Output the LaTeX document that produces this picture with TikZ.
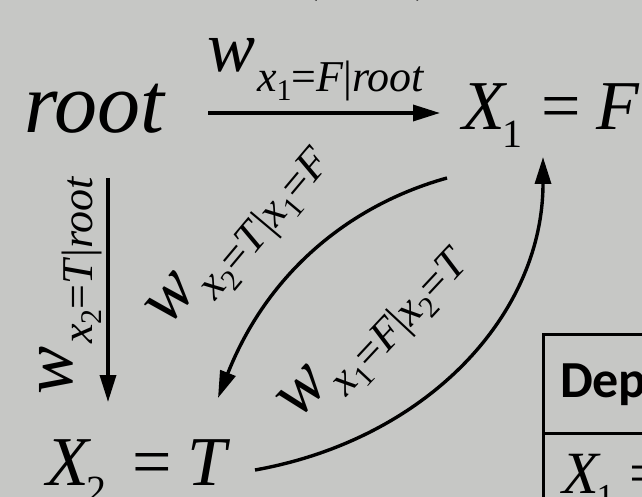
\documentclass[tikz,border=0pt]{standalone}
\usepackage{fontspec}
\setmainfont{Liberation Serif}
\newfontfamily\calfont{Carlito}
\usetikzlibrary{arrows.meta}
\definecolor{bg}{RGB}{198,199,197}
\newcommand\fsz[1]{\fontsize{#1}{#1}\selectfont}
\newcommand\ssub[1]{\raisebox{-9pt}{\fsz{30}#1}}
\newcommand\wlab[1]{{\fsz{72}\itshape w}\hspace{2pt}\raisebox{-20pt}{\fsz{44}#1}}
\begin{document}
\begin{tikzpicture}[x=1pt,y=-1pt,
  txt/.style={inner sep=0pt, outer sep=0pt, anchor=base west},
  arr/.style={line width=3.4pt, -{Triangle[length=27pt,width=16pt]}},
  frame/.style={line width=3pt}]
\fill[bg] (0,0) rectangle (642,497);
\useasboundingbox (0,0) rectangle (642,497);
\clip (0,0) rectangle (642,497);
% partly hidden title
\node[txt] (title) at (301,-9) {\fsz{52}(\hspace{32pt},\hspace{52pt})};
% nodes
\node[txt] (root) at (24,133) {\fsz{86}\itshape root};
\node[txt] (x1) at (462,130) {\fsz{70}\textit{X}\hspace{-5pt}\raisebox{-18pt}{\fsz{40}1}\hspace{19pt}=\hspace{16pt}\textit{F}};
\node[txt] (x2) at (46,485) {\fsz{70}\textit{X}\hspace{-5pt}\raisebox{-18pt}{\fsz{40}2}\hspace{26pt}=\hspace{16pt}\textit{T}};
% connectors
\draw[arr] ([shift={(44,-20)}]root.base east) coordinate (s) -- ([xshift=-22pt]x1.west |- s);
\draw[arr] ([shift={(84,45)}]root.base west) -- ([shift={(62,-83)}]x2.base west);
\draw[arr] ([shift={(-15,48)}]x1.base west) .. controls (350,205) and (268,272) .. ([shift={(172,-87)}]x2.base west);
\draw[arr] ([shift={(209,-15)}]x2.base west) .. controls (428,439) and (543,314) .. ([shift={(81,27)}]x1.base west);
% labels
\node[txt] (l1) at (207,72) {\wlab{\textit{x}\ssub{1}=\textit{F}|\textit{root}}};
\node[txt, rotate=90] (l2) at (72,394) {\wlab{\textit{x}\ssub{2}=\textit{T}|\textit{root}}};
\node[txt, rotate=50] (l3) at (168,327) {\wlab{\textit{x}\ssub{2}=\textit{T}|\textit{x}\ssub{1}=\textit{F}}};
\node[txt, rotate=47] (l4) at (298,420) {\wlab{\textit{x}\ssub{1}=\textit{F}|\textit{x}\ssub{2}=\textit{T}}};
% table
\draw[frame] (543,700) -- (543,334) -- (700,334);
\draw[frame] (543,433) -- (700,433);
\node[txt] (dep) at (560,397) {\calfont\bfseries\fsz{52}Dep};
\node[txt] (row) at (562,493) {\fsz{60}\textit{X}\hspace{-4pt}\raisebox{-15pt}{\fsz{35}1}\hspace{15pt}=};
\end{tikzpicture}
\end{document}
